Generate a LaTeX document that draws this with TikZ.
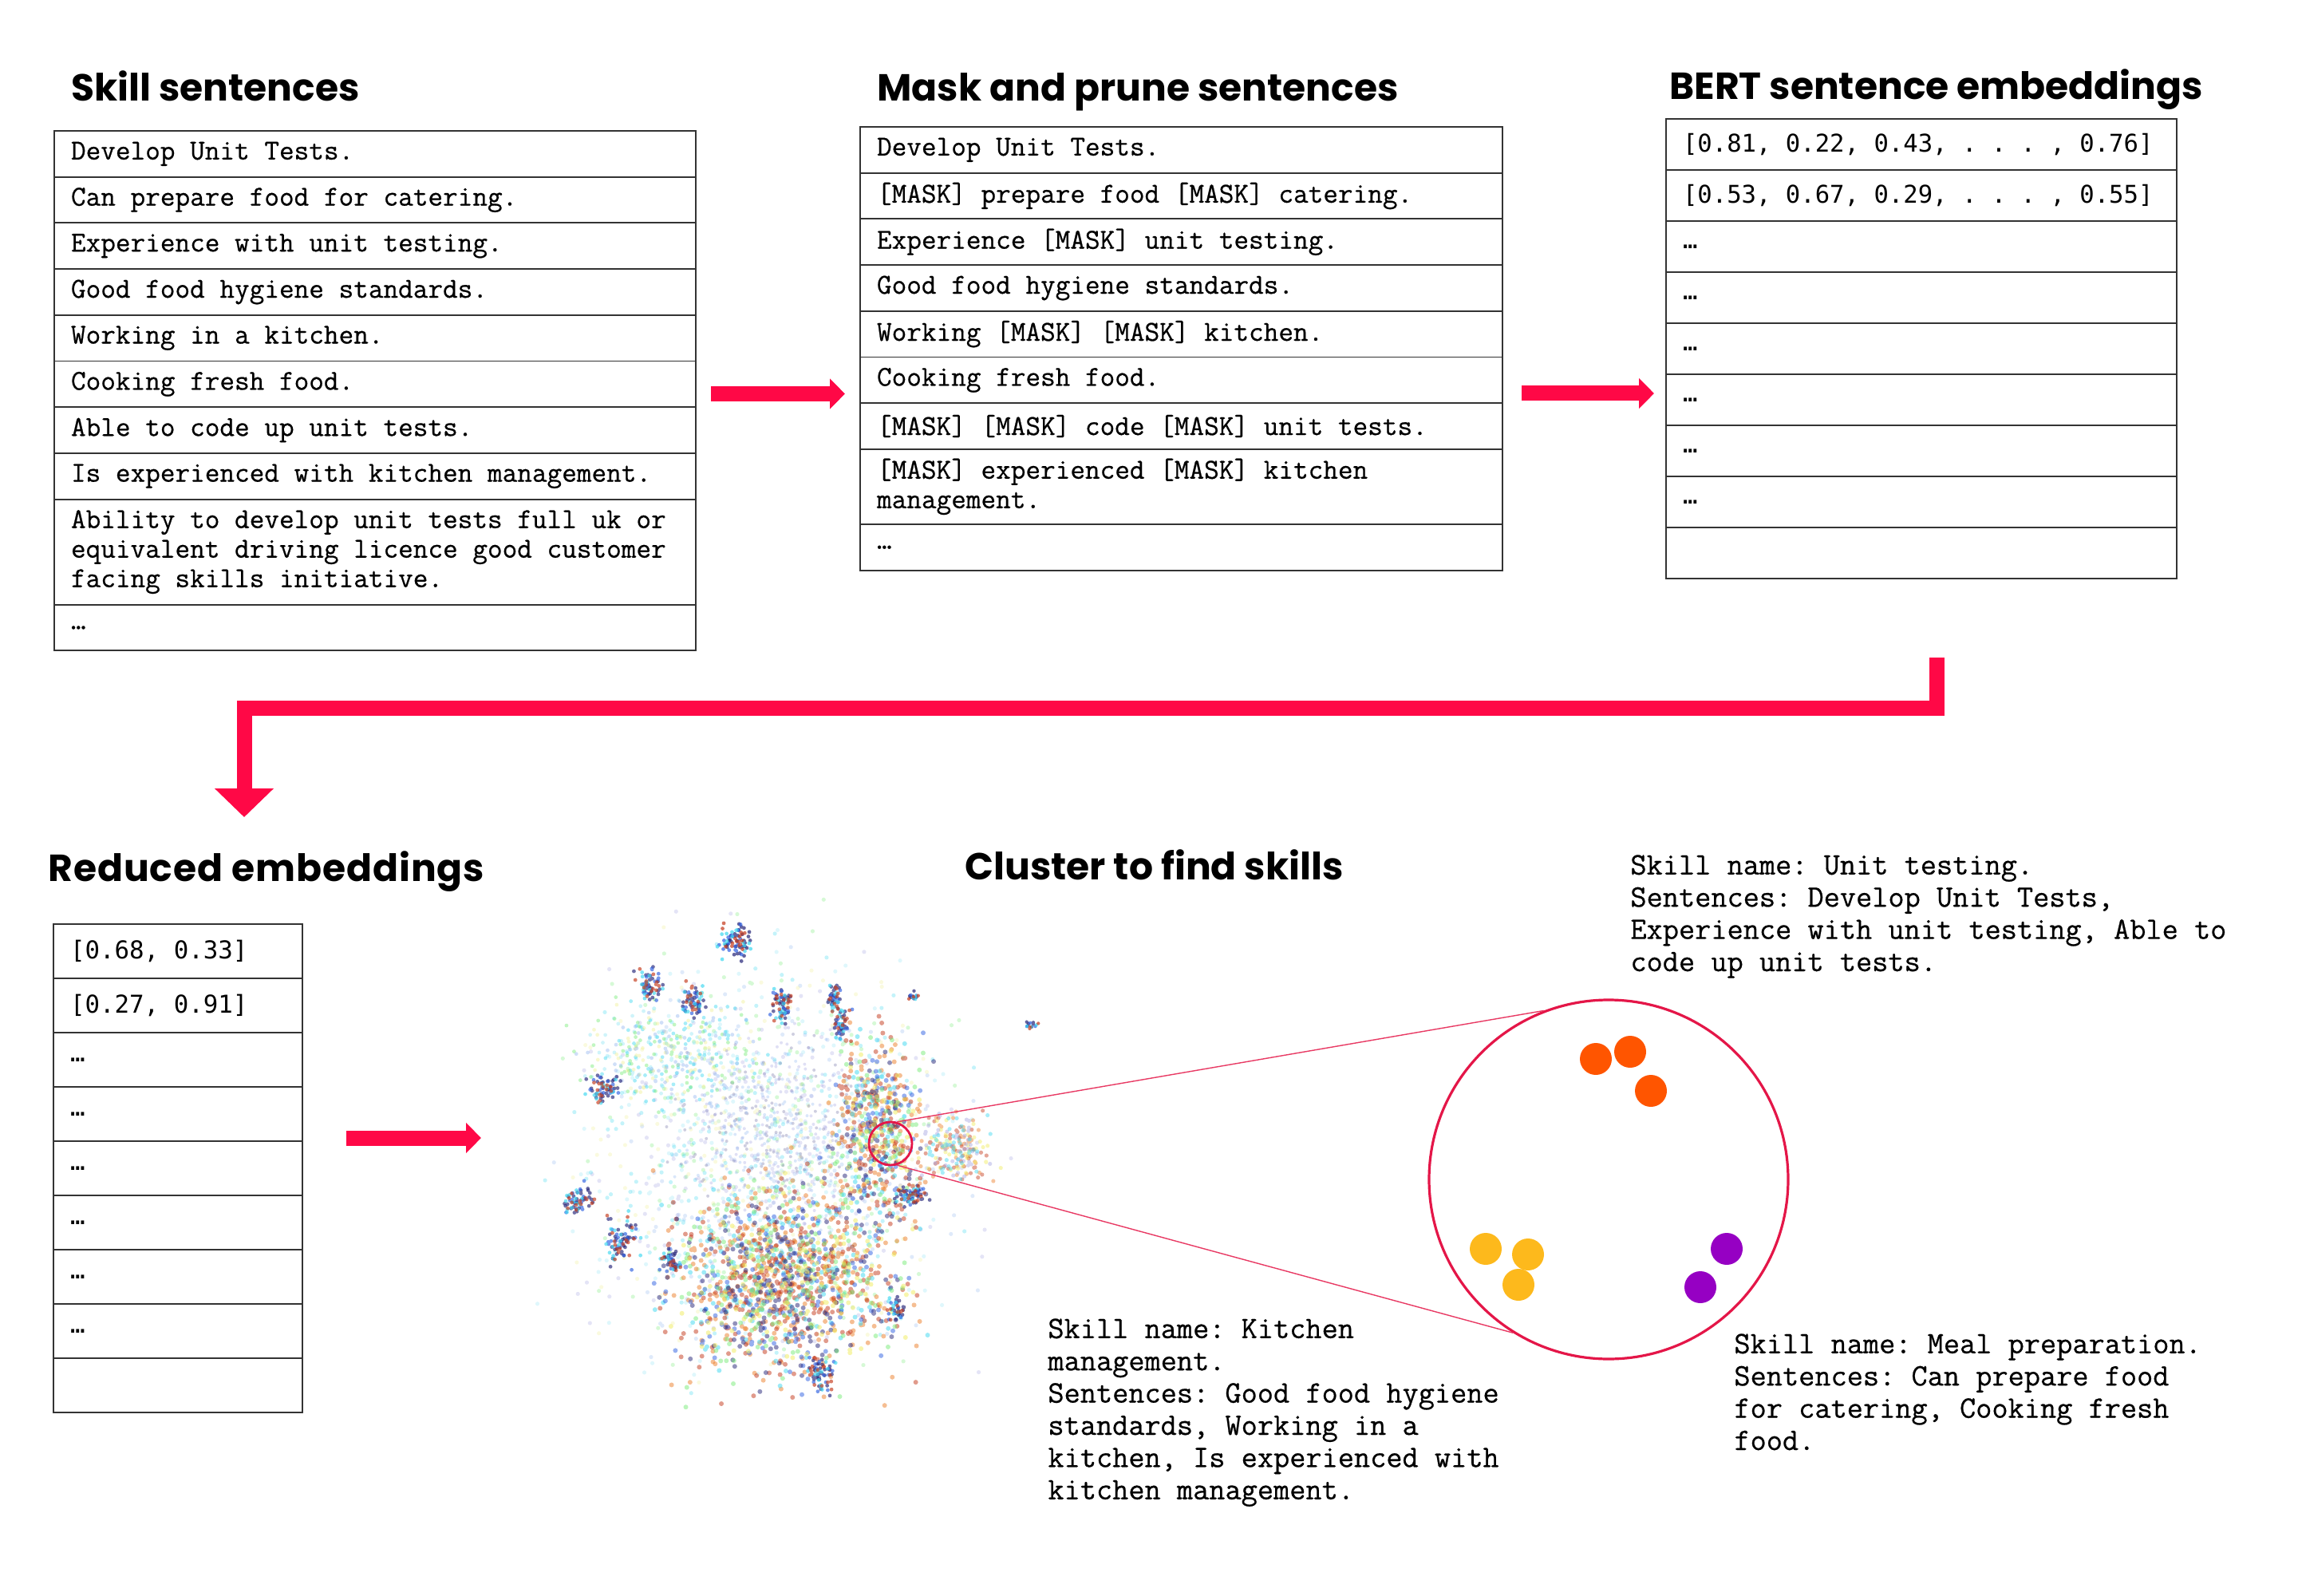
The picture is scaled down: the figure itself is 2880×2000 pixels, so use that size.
\documentclass[tikz,border=0pt]{standalone}
\usepackage{fontspec}
\usepackage{tikz}
\usetikzlibrary{positioning,arrows.meta}
\newfontfamily\cour{Latin Modern Mono}[FakeBold=0.6]
\newfontfamily\vecfont{DejaVu Sans Mono}
\newfontfamily\headfont{Poppins}
\frenchspacing

\definecolor{flowred}{RGB}{255,8,70}
\definecolor{zoomred}{RGB}{228,22,72}
\definecolor{skillorange}{RGB}{255,85,0}
\definecolor{skillyellow}{RGB}{253,185,28}
\definecolor{skillpurple}{RGB}{150,0,195}
% scatter colours
\definecolor{dnavy}{RGB}{35,35,120}
\definecolor{dblue}{RGB}{45,95,225}
\definecolor{dcyan}{RGB}{60,215,240}
\definecolor{dgreen}{RGB}{120,235,120}
\definecolor{dyellow}{RGB}{240,235,90}
\definecolor{dorange}{RGB}{235,125,40}
\definecolor{drust}{RGB}{195,55,25}
\definecolor{dlblue}{RGB}{150,185,240}
\definecolor{dlav}{RGB}{165,165,225}
\definecolor{dpcyan}{RGB}{150,230,245}
\definecolor{dpyellow}{RGB}{240,240,150}
\definecolor{dgrey}{RGB}{115,115,165}

\tikzset{
	cell/.style={draw=black!80, line width=0.9pt, outer sep=0pt, inner xsep=10.5pt, inner ysep=0pt, align=flush left},
	skillrow/.style={cell, text width=381pt, minimum height=28.85pt, font=\cour\fontsize{18.1}{18.5}\selectfont},
	maskrow/.style={cell, text width=381.5pt, minimum height=28.85pt, font=\cour\fontsize{18.1}{18.5}\selectfont},
	bertrow/.style={cell, text width=299pt, minimum height=32pt, font=\vecfont\fontsize{15.3}{18}\selectfont},
	redrow/.style={cell, text width=135pt, minimum height=34pt, font=\vecfont\fontsize{15.4}{18}\selectfont},
	heading/.style={anchor=base west, inner sep=0pt, font=\headfont\bfseries\fontsize{23.6}{28}\selectfont},
	flow/.style={flowred, line width=9.5pt, -{Triangle[width=18.5pt,length=9.5pt]}},
	note/.style={anchor=north west, inner sep=0pt, align=left, font=\cour\fontsize{19.6}{20.2}\selectfont},
	zoomline/.style={zoomred!85, line width=0.7pt},
}

\begin{document}
\begin{tikzpicture}[x=0.5pt,y=-0.5pt]
	\useasboundingbox (0,0) rectangle (2880,2000);

	% skill sentences
	\node[heading] (h1) at (89,127) {Skill sentences};
	\node[skillrow, anchor=north west] (s1) at (68,164) {Develop Unit Tests.};
	\node[skillrow, below=0pt of s1] (s2) {Can prepare food for catering.};
	\node[skillrow, below=0pt of s2] (s3) {Experience with unit testing.};
	\node[skillrow, below=0pt of s3] (s4) {Good food hygiene standards.};
	\node[skillrow, below=0pt of s4] (s5) {Working in a kitchen.};
	\node[skillrow, below=0pt of s5] (s6) {Cooking fresh food.};
	\node[skillrow, below=0pt of s6] (s7) {Able to code up unit tests.};
	\node[skillrow, below=0pt of s7] (s8) {Is experienced with kitchen management.};
	\node[skillrow, minimum height=66pt, below=0pt of s8] (s9) {Ability to develop unit tests full uk or\\equivalent driving licence good customer\\facing skills initiative.};
	\node[skillrow, below=0pt of s9] (s10) {…};

	% masked sentences
	\node[heading] (h2) at (1099,127) {Mask and prune sentences};
	\node[maskrow, anchor=north west] (m1) at (1078,159) {Develop Unit Tests.};
	\node[maskrow, below=0pt of m1] (m2) {[MASK] prepare food [MASK] catering.};
	\node[maskrow, below=0pt of m2] (m3) {Experience [MASK] unit testing.};
	\node[maskrow, below=0pt of m3] (m4) {Good food hygiene standards.};
	\node[maskrow, below=0pt of m4] (m5) {Working [MASK] [MASK] kitchen.};
	\node[maskrow, below=0pt of m5] (m6) {Cooking fresh food.};
	\node[maskrow, below=0pt of m6] (m7) {[MASK] [MASK] code [MASK] unit tests.};
	\node[maskrow, minimum height=47pt, below=0pt of m7] (m8) {[MASK] experienced [MASK] kitchen\\management.};
	\node[maskrow, below=0pt of m8] (m9) {…};

	% bert embeddings
	\node[heading] (h3) at (2092,125) {BERT sentence embeddings};
	\node[bertrow, anchor=north west] (e1) at (2088,149) {[0.81, 0.22, 0.43, . . . , 0.76]};
	\node[bertrow, below=0pt of e1] (e2) {[0.53, 0.67, 0.29, . . . , 0.55]};
	\foreach \i [remember=\i as \j (initially 2)] in {3,...,8}
		\node[bertrow, below=0pt of e\j] (e\i) {…};
	\node[bertrow, below=0pt of e8] (e9) {};

	% reduced embeddings
	\node[heading] (h4) at (60,1104) {\addfontfeature{LetterSpace=2}Reduced embeddings};
	\node[redrow, anchor=north west] (r1) at (67,1158) {[0.68, 0.33]};
	\node[redrow, below=0pt of r1] (r2) {[0.27, 0.91]};
	\foreach \i [remember=\i as \j (initially 2)] in {3,...,8}
		\node[redrow, below=0pt of r\j] (r\i) {…};
	\node[redrow, below=0pt of r8] (r9) {};

	\node[heading] (h5) at (1209,1102) {Cluster to find skills};

	% flow arrows
	\coordinate (f1a) at (891,493.5);
	\coordinate (f1b) at (1059,493.5);
	\coordinate (f2a) at (1907,493);
	\coordinate (f2b) at (2073,493);
	\coordinate (f3a) at (434,1426);
	\coordinate (f3b) at (603,1426);
	\coordinate (f4a) at (2427,824);
	\coordinate (f4b) at (306,887);
	\coordinate (f4c) at (306,1024);
	\draw[flow] (f1a) -- (f1b);
	\draw[flow] (f2a) -- (f2b);
	\draw[flow] (f3a) -- (f3b);
	\draw[flowred, line width=9.5pt, line join=miter, -{Triangle[width=36pt,length=18pt]}] (f4a) |- (f4b) -- (f4c);

	% reduced scatter, one path per blob and colour
	\pgfmathsetseed{2024}
	\foreach \cx/\cy/\rx/\ry/\n/\cols/\op/\rad in {
		962/1450/330/340/220/{dlblue,dlav,dpcyan,dpyellow,dgreen,dcyan}/0.3/1.3,
		965/1420/160/170/160/{dgrey,dlav,dlblue}/0.35/1.0,
		840/1320/160/90/80/{dpcyan,dcyan,dgreen,dpyellow,dlblue}/0.45/1.2,
		985/1605/190/170/160/{dorange,dorange,drust,drust,dcyan,dblue,dnavy,dgreen,dyellow}/0.5/1.5,
		1100/1420/80/160/60/{dorange,dorange,drust,drust,dcyan,dblue,dnavy,dgreen,dyellow}/0.5/1.5,
		1195/1440/65/60/45/{dorange,drust,dyellow,dlav,dcyan}/0.45/1.3,
		922/1178/28/30/16/{dnavy,dnavy,dblue,dcyan,drust}/0.7/1.2,
		813/1234/22/28/14/{dnavy,dnavy,dblue,dcyan,drust}/0.65/1.2,
		869/1255/20/30/14/{dnavy,dnavy,dblue,dcyan,drust}/0.65/1.2,
		980/1262/20/34/14/{dnavy,dnavy,dblue,dcyan,drust}/0.65/1.2,
		1045/1248/14/28/10/{dnavy,dnavy,dblue,dcyan,drust}/0.65/1.2,
		1056/1284/16/28/10/{dnavy,dnavy,dblue,dcyan,drust}/0.65/1.2,
		757/1365/28/26/14/{dnavy,dnavy,dblue,dcyan,drust}/0.65/1.2,
		724/1505/26/26/14/{dnavy,dnavy,dblue,dcyan,drust}/0.65/1.2,
		779/1556/30/40/16/{dnavy,dnavy,dblue,dcyan,drust}/0.65/1.2,
		842/1582/20/22/10/{dnavy,dnavy,dblue,dcyan,drust}/0.65/1.2,
		1029/1722/22/30/14/{dnavy,dnavy,dblue,dcyan,drust}/0.65/1.2,
		1123/1640/16/20/8/{dnavy,dnavy,dblue,dcyan,drust}/0.65/1.2,
		1141/1498/30/20/14/{dnavy,dnavy,dblue,dcyan,drust}/0.65/1.2,
		1145/1248/8/8/3/{dnavy,dnavy,dblue,dcyan,drust}/0.7/1.1,
		1293/1285/12/7/3/{dnavy,dnavy,dblue,dcyan,drust}/0.7/1.1}{
		\foreach \c in \cols
			\fill[\c, opacity=\op] foreach \i in {1,...,\n}
				{({\cx+\rx*(rand+rand+rand)/3}, {\cy+\ry*(rand+rand+rand)/3}) circle (\rad pt)};
	}

	% zoom into one region
	\node[circle, draw=zoomred, line width=1.4pt, minimum size=27pt, inner sep=0pt] (spot) at (1116,1433) {};
	\node[circle, draw=zoomred, line width=1.6pt, minimum size=225pt, inner sep=0pt] (lens) at (2016,1478) {};
	\draw[zoomline] (spot.73) -- (lens.111);
	\draw[zoomline] (spot.-73) -- (lens.238);
	\foreach \dx/\dy/\dc in {2000/1327/skillorange, 2043/1318/skillorange, 2069/1367/skillorange,
		1862/1565/skillyellow, 1915/1572/skillyellow, 1903/1610/skillyellow,
		2164/1565/skillpurple, 2131/1613/skillpurple}
		\fill[\dc] (\dx,\dy) circle (10pt);

	% skill names
	\node[note] (n1) at (2043,1071) {Skill name: Unit testing.\\Sentences: Develop Unit Tests,\\Experience with unit testing, Able to\\code up unit tests.};
	\node[note] (n2) at (1313,1652) {Skill name: Kitchen\\management.\\Sentences: Good food hygiene\\standards, Working in a\\kitchen, Is experienced with\\kitchen management.};
	\node[note] (n3) at (2173,1671) {Skill name: Meal preparation.\\Sentences: Can prepare food\\for catering, Cooking fresh\\food.};
\end{tikzpicture}
\end{document}
